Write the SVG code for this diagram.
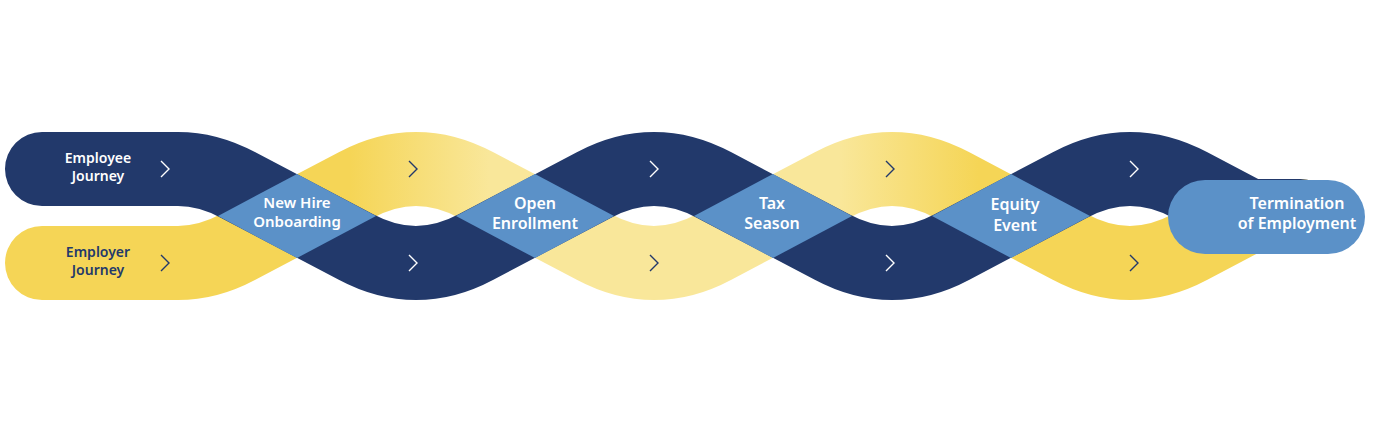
<svg xmlns="http://www.w3.org/2000/svg" width="1398" height="433" viewBox="0 0 1398 433">
<defs>
<linearGradient id="yg" gradientUnits="userSpaceOnUse" x1="0" y1="0" x2="1398" y2="0">
<stop offset="0.25" stop-color="#F5D556"/>
<stop offset="0.35" stop-color="#F9E79A"/>
<stop offset="0.6" stop-color="#F9E79A"/>
<stop offset="0.7" stop-color="#F5D556"/>
</linearGradient>
<style>
.band{fill:none;stroke-width:74;stroke-linecap:round}
.dia{fill:#5B91C8}
.t{font-family:"Noto Sans","Liberation Sans",sans-serif;font-weight:600;text-anchor:middle}
.w{fill:#FFFFFF}
.n{fill:#22396B}
.chev{fill:none;stroke-width:1.4}
</style>
</defs>
<rect width="1398" height="433" fill="#FFFFFF"/>
<g id="connectors">
<path class="band" stroke="url(#yg)" d="M42,263 H178 Q208,263 238,247 L356,185 Q386,169 416,169 Q446,169 476,185 L594,247 Q624,263 654,263 Q684,263 714,247 L832,185 Q862,169 892,169 Q922,169 952,185 L1070,247 Q1100,263 1130,263 Q1160,263 1190,247 L1249,216 H1300"/>
<path class="band" stroke="#22396B" d="M42,169 H178 Q208,169 238,185 L356,247 Q386,263 416,263 Q446,263 476,247 L594,185 Q624,169 654,169 Q684,169 714,185 L832,247 Q862,263 892,263 Q922,263 952,247 L1070,185 Q1100,169 1130,169 Q1160,169 1190,185 L1249,216 H1300"/>
<g class="chev">
<polyline stroke="#FFFFFF" points="161,161 169,169 161,177"/>
<polyline stroke="#22396B" points="161,255 169,263 161,271"/>
<polyline stroke="#22396B" points="409,161 417,169 409,177"/>
<polyline stroke="#FFFFFF" points="409,255 417,263 409,271"/>
<polyline stroke="#FFFFFF" points="650,161 658,169 650,177"/>
<polyline stroke="#22396B" points="650,255 658,263 650,271"/>
<polyline stroke="#22396B" points="886,161 894,169 886,177"/>
<polyline stroke="#FFFFFF" points="886,255 894,263 886,271"/>
<polyline stroke="#FFFFFF" points="1130,161 1138,169 1130,177"/>
<polyline stroke="#22396B" points="1130,255 1138,263 1130,271"/>
</g>
</g>
<g id="employee"><text class="t w" font-size="14" x="98" y="163">Employee</text><text class="t w" font-size="14" x="98" y="181">Journey</text></g>
<g id="employer"><text class="t n" font-size="14" x="98" y="257">Employer</text><text class="t n" font-size="14" x="98" y="275">Journey</text></g>
<g id="newhire"><polygon class="dia" points="297,174 376,216 297,258 218,216"/><text class="t w" font-size="15" x="297" y="208">New Hire</text><text class="t w" font-size="15" x="297" y="227">Onboarding</text></g>
<g id="open"><polygon class="dia" points="535,174 614,216 535,258 456,216"/><text class="t w" font-size="16" x="535" y="209" font-weight="500">Open</text><text class="t w" font-size="16" x="535" y="229" font-weight="500">Enrollment</text></g>
<g id="tax"><polygon class="dia" points="773,174 852,216 773,258 694,216"/><text class="t w" font-size="16" x="772" y="209" font-weight="500">Tax</text><text class="t w" font-size="16" x="772" y="229" font-weight="500">Season</text></g>
<g id="equity"><polygon class="dia" points="1011,174 1090,216 1011,258 932,216"/><text class="t w" font-size="16" x="1015" y="210" font-weight="500">Equity</text><text class="t w" font-size="16" x="1015" y="231" font-weight="500">Event</text></g>
<g id="termination"><rect x="1168" y="180" width="197" height="74" rx="37" fill="#5B91C8"/><text class="t w" font-size="16" x="1297" y="209" font-weight="500">Termination</text><text class="t w" font-size="16" x="1297" y="229" font-weight="500">of Employment</text></g>
</svg>
